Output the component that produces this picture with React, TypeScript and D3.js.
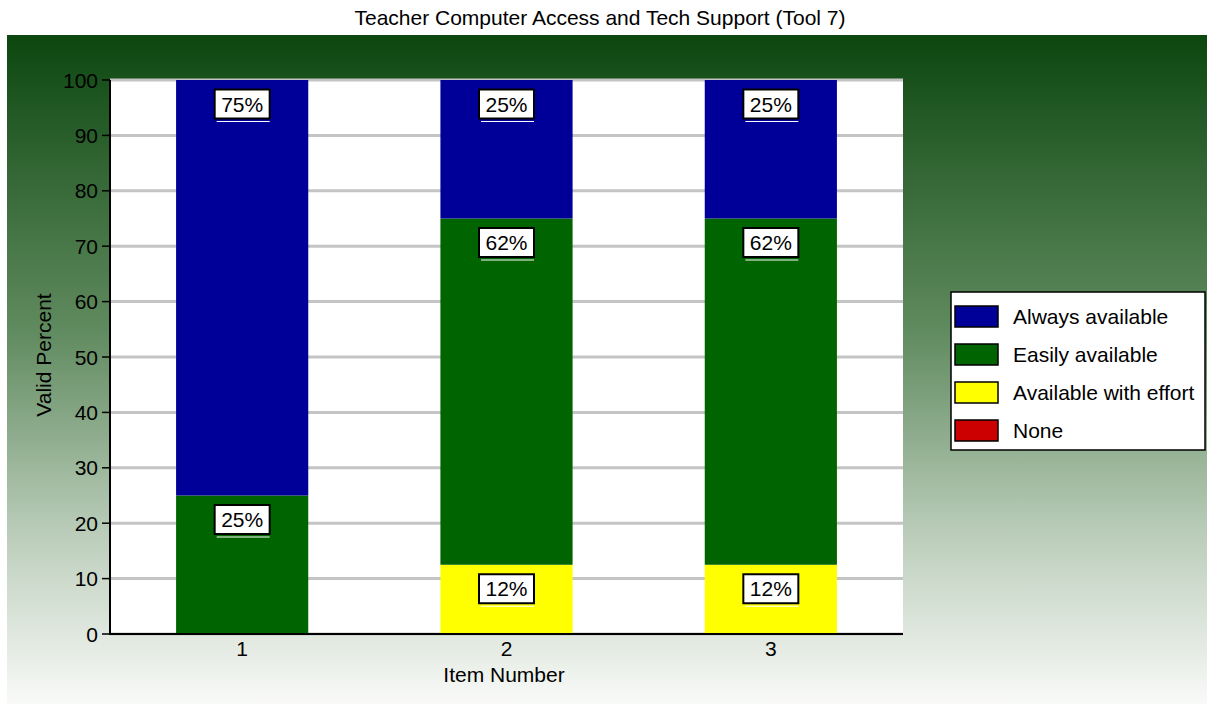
import React from "react";
import * as d3 from "d3";

const title = "Teacher Computer Access and Tech Support (Tool 7)";
const categories = ["1", "2", "3"];
const seriesNames = ["None", "Available with effort", "Easily available", "Always available"];
const seriesColors = ["#cc0000", "#ffff00", "#006400", "#000099"];
const noneValues = [0, 0, 0];
const effortValues = [0, 12.5, 12.5];
const easilyValues = [25, 62.5, 62.5];
const alwaysValues = [75, 25, 25];
const yTicks = [0, 10, 20, 30, 40, 50, 60, 70, 80, 90, 100];
const legendOrder = ["Always available", "Easily available", "Available with effort", "None"];

const W = 1207;
const H = 704;
const FONT = "'Liberation Sans', Arial, Helvetica, sans-serif";
const FS = 21;

export default function App() {
  const plot = { left: 110, right: 903, top: 80, bottom: 634 };
  const x = d3.scaleBand<string>().domain(categories).range([plot.left, plot.right]).paddingInner(0.5).paddingOuter(0.25);
  const y = d3.scaleLinear().domain([0, 100]).range([plot.bottom, plot.top]);

  const seriesValues = [noneValues, effortValues, easilyValues, alwaysValues];
  const rows = categories.map((c, i) => {
    const r: any = { cat: c };
    seriesNames.forEach((s, k) => (r[s] = seriesValues[k][i]));
    return r;
  });
  const stacked = d3.stack<any>().keys(seriesNames)(rows);

  const labels: any[] = [];
  stacked.forEach((layer, k) => {
    layer.forEach((d, i) => {
      const v = d[1] - d[0];
      if (v > 0) labels.push({ k, i, v, top: d[1] });
    });
  });

  return (
    <svg width={W} height={H} style={{ position: "absolute", left: 0, top: 0 }} fontFamily={FONT}>
      <defs>
        <linearGradient id="bg" x1="0" y1="0" x2="0" y2="1">
          <stop offset="0" stopColor="#0c470f" />
          <stop offset="0.45" stopColor="#628c61" />
          <stop offset="0.75" stopColor="#bccebb" />
          <stop offset="1" stopColor="#f9faf8" />
        </linearGradient>
      </defs>
      <rect x={0} y={0} width={W} height={H} fill="#fff" />
      <rect x={7} y={35} width={W - 7} height={H - 35} fill="url(#bg)" />
      <text x={600} y={25} textAnchor="middle" fontSize={FS} fill="#000">{title}</text>

      <rect x={plot.left} y={plot.top} width={plot.right - plot.left} height={plot.bottom - plot.top} fill="#fff" />
      {yTicks.map((t) => (
        <line key={t} x1={plot.left} x2={plot.right} y1={y(t)} y2={y(t)} stroke="#c4c4c4" strokeWidth={3} />
      ))}

      {stacked.map((layer, k) => (
        <g key={k} fill={seriesColors[k]}>
          {layer.map((d, i) => (
            d[1] - d[0] > 0 ? (
              <rect key={i} x={x(categories[i])} width={x.bandwidth()} y={y(d[1])} height={y(d[0]) - y(d[1])} />
            ) : null
          ))}
        </g>
      ))}

      {labels.map((l, idx) => {
        const cx = (x(categories[l.i]) as number) + x.bandwidth() / 2;
        const cy = y(l.top) + 26;
        const bw = 55;
        const bh = 29;
        return (
          <g key={idx}>
            <rect x={cx - bw / 2} y={cy - bh / 2 - 2} width={bw} height={bh} fill="#fff" stroke="#000" strokeWidth={2} />
            <line x1={cx - bw / 2 + 2} x2={cx + bw / 2} y1={cy + bh / 2 + 1} y2={cy + bh / 2 + 1} stroke="#fff" strokeWidth={1} />
            <text x={cx} y={cy - 2} textAnchor="middle" dominantBaseline="central" fontSize={FS} fill="#000">
              {Math.floor(l.v) + "%"}
            </text>
          </g>
        );
      })}

      <line x1={plot.left} x2={plot.left} y1={plot.top} y2={plot.bottom + 1} stroke="#000" strokeWidth={2} />
      <line x1={plot.left - 1} x2={plot.right} y1={plot.bottom} y2={plot.bottom} stroke="#000" strokeWidth={2} />

      {yTicks.map((t) => (
        <g key={t}>
          <line x1={plot.left - 8} x2={plot.left} y1={y(t)} y2={y(t)} stroke="#000" strokeWidth={1.5} />
          <text x={plot.left - 12} y={y(t)} textAnchor="end" dominantBaseline="central" fontSize={FS} fill="#000">{t}</text>
        </g>
      ))}
      {categories.map((c) => (
        <text key={c} x={(x(c) as number) + x.bandwidth() / 2} y={656} textAnchor="middle" fontSize={FS} fill="#000">{c}</text>
      ))}
      <text x={504} y={682} textAnchor="middle" fontSize={FS} fill="#000">Item Number</text>
      <text transform={`translate(51,355) rotate(-90)`} textAnchor="middle" fontSize={FS} fill="#000">Valid Percent</text>

      <rect x={951} y={292} width={254} height={158} fill="#fff" stroke="#000" strokeWidth={1.5} />
      {legendOrder.map((name, j) => {
        const k = seriesNames.indexOf(name);
        const cy = 316 + j * 38;
        return (
          <g key={name}>
            <rect x={955} y={cy - 10} width={43} height={21} fill={seriesColors[k]} stroke="#000" strokeWidth={1.5} />
            <text x={1013} y={cy} dominantBaseline="central" fontSize={FS} fill="#000">{name}</text>
          </g>
        );
      })}
    </svg>
  );
}
